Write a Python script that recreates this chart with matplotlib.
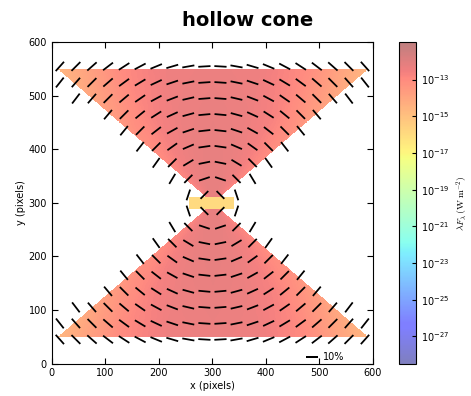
import numpy as np
import matplotlib
matplotlib.use('Agg')
import matplotlib.pyplot as plt
from matplotlib.colors import LogNorm

### Data ###

# cone geometry (pixels)
cone_center = (300, 300)
cone_base_low = 50
cone_base_high = 550
cone_slope = 1.16          # half-width per unit height from the apex

# central bright slab
slab_x = [255, 340]
slab_y = [289, 312]
slab_logflux = -15.9

# log10 flux (W m^-2) table: rows = angle from cone axis, cols = distance from centre
flux_angles = [0, 20, 35, 45, 52]
flux_radii = [0, 100, 200, 300, 400]
log_flux = [
    [-12.2, -12.2, -12.3, -12.4, -12.5],
    [-12.2, -12.3, -12.4, -12.5, -12.7],
    [-12.4, -12.5, -12.7, -13.0, -13.4],
    [-12.6, -12.8, -13.1, -13.7, -14.4],
    [-12.8, -13.0, -13.4, -14.2, -15.0],
]

# polarization degree (%) vs distance from centre
pol_radii = [0, 100, 200, 300, 400]
pol_degree = [9, 10, 10, 10.5, 10.5]

bin_size = 30
vmin_log, vmax_log = -28.5, -10.95
cbar_ticks = [-27, -25, -23, -21, -19, -17, -15, -13]


def table_lookup(ang, rad):
    # bilinear lookup in the flux table
    tab = np.array(log_flux)
    per_angle = np.array([np.interp(rad, flux_radii, row) for row in tab])
    out = np.empty_like(rad)
    for i in range(rad.size):
        out.flat[i] = np.interp(ang.flat[i], flux_angles, per_angle[:, i])
    return out


def half_width(y):
    return cone_slope * np.abs(y - cone_center[1])


### Build the image ###
px = np.arange(600) + 0.5
X, Y = np.meshgrid(px, px)
dx = X - cone_center[0]
dy = Y - cone_center[1]
inside = (np.abs(dx) <= half_width(Y)) & (Y >= cone_base_low) & (Y <= cone_base_high)
in_slab = (X >= slab_x[0]) & (X <= slab_x[1]) & (Y >= slab_y[0]) & (Y <= slab_y[1])
inside |= in_slab

ang = np.degrees(np.arctan2(np.abs(dx), np.abs(dy))).ravel()
rad = np.hypot(dx, dy).ravel()
img = table_lookup(ang, rad).reshape(X.shape)
img[in_slab] = slab_logflux
flux = np.ma.masked_where(~inside, 10.0 ** img)

### Polarization vectors on 30x30 bins ###
centres = np.arange(bin_size / 2, 600, bin_size)
vx, vy = [], []
for yc in centres:
    for xc in centres:
        cell = inside[int(yc - 15):int(yc + 15), int(xc - 15):int(xc + 15)]
        if cell.any():
            vx.append(xc)
            vy.append(yc)
vx = np.array(vx)
vy = np.array(vy)
theta = np.arctan2(vy - cone_center[1], vx - cone_center[0]) + np.pi / 2
p = np.interp(np.hypot(vx - cone_center[0], vy - cone_center[1]), pol_radii, pol_degree)

### Plot ###
fig = plt.figure(figsize=(4.71, 3.96), dpi=100)
ax = fig.add_axes([0.110, 0.081, 0.682, 0.813])
cax = fig.add_axes([0.847, 0.081, 0.036, 0.813])

cmap = plt.get_cmap('jet').copy()
cmap.set_bad((1, 1, 1, 0))
im = ax.imshow(flux, origin='lower', extent=[0, 600, 0, 600], cmap=cmap,
               norm=LogNorm(vmin=10 ** vmin_log, vmax=10 ** vmax_log),
               alpha=0.5, interpolation='nearest')

q = ax.quiver(vx, vy, p * np.cos(theta), p * np.sin(theta), pivot='mid',
              angles='xy', scale_units='xy', scale=0.45, headwidth=0,
              headlength=0, headaxislength=0, width=0.0055, color='black', zorder=3)
ax.quiverkey(q, 497, 12, 10, '10%', labelpos='E', coordinates='data',
             labelsep=0.05, fontproperties={'size': 7})

ax.set_xlim(0, 600)
ax.set_ylim(0, 600)
ax.set_xticks([0, 100, 200, 300, 400, 500, 600])
ax.set_yticks([0, 100, 200, 300, 400, 500, 600])
ax.tick_params(direction='in', top=True, right=True, length=4, labelsize=7)
ax.set_xlabel('x (pixels)', fontsize=7, labelpad=2)
ax.set_ylabel('y (pixels)', fontsize=7, labelpad=2)

cb = fig.colorbar(im, cax=cax, ticks=[10.0 ** t for t in cbar_ticks])
cb.ax.set_yticklabels([r'$10^{%d}$' % t for t in cbar_ticks])
cb.ax.minorticks_off()
cb.ax.tick_params(direction='in', length=3, labelsize=7)
cb.set_label(r'$\lambda F_\lambda\,(\mathrm{W\,m^{-2}})$', fontsize=7,
             math_fontfamily='cm', labelpad=4)

fig.text(0.525, 0.947, 'hollow cone', ha='center', va='center',
         fontsize=14, fontweight='bold')

fig.savefig('out.png', dpi=100)
